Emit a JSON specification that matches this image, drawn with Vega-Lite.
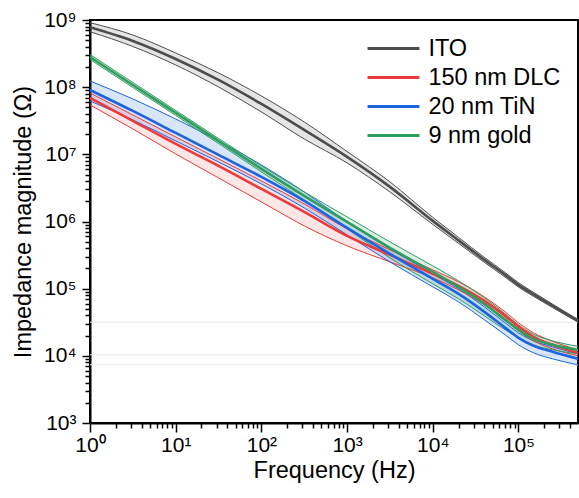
{
  "$schema": "https://vega.github.io/schema/vega-lite/v6.json",
  "width": 488,
  "height": 403,
  "autosize": {"type": "none"},
  "padding": {"left": 90, "top": 20, "right": 1, "bottom": 75},
  "config": {
    "font": "Liberation Sans",
    "view": {"stroke": "black", "strokeWidth": 2},
    "axis": {
      "domainColor": "black", "domainWidth": 2, "tickColor": "black", "tickWidth": 1.5,
      "labelColor": "black", "labelFontSize": 21, "labelFont": "Liberation Sans",
      "titleFontSize": 23.5, "titleFontWeight": "normal", "titleColor": "black", "titleFont": "Liberation Sans",
      "grid": false, "labelOverlap": false, "labelFlush": false
    },
    "legend": {
      "labelFontSize": 23.5, "labelFont": "Liberation Sans", "labelColor": "black",
      "symbolType": "M-2.2,0H2.2", "symbolSize": 557, "symbolStrokeWidth": 3,
      "labelOffset": 21.4, "rowPadding": 4
    }
  },
  "datasets": {
    "refs": [{"z": 31700}, {"z": 10350}, {"z": 7350}],
    "curves": [
      {"s": "ITO", "f": 1, "z": 7.787e8, "hi": 9.117e8, "lo": 6.695e8},
      {"s": "ITO", "f": 3.16, "z": 4.870e8, "hi": 5.982e8, "lo": 4.034e8},
      {"s": "ITO", "f": 10, "z": 2.628e8, "hi": 3.228e8, "lo": 2.140e8},
      {"s": "ITO", "f": 31.6, "z": 1.280e8, "hi": 1.627e8, "lo": 1.007e8},
      {"s": "ITO", "f": 100, "z": 5.623e7, "hi": 7.397e7, "lo": 4.274e7},
      {"s": "ITO", "f": 316, "z": 2.307e7, "hi": 3.035e7, "lo": 1.695e7},
      {"s": "ITO", "f": 1000, "z": 9.150e6, "hi": 1.100e7, "lo": 7.448e6},
      {"s": "ITO", "f": 3162, "z": 3.273e6, "hi": 3.885e6, "lo": 2.757e6},
      {"s": "ITO", "f": 10000, "z": 1.021e6, "hi": 1.151e6, "lo": 9.056e5},
      {"s": "ITO", "f": 20000, "z": 5.233e5, "hi": 5.799e5, "lo": 4.722e5},
      {"s": "ITO", "f": 40000, "z": 2.683e5, "hi": 2.923e5, "lo": 2.463e5},
      {"s": "ITO", "f": 70000, "z": 1.605e5, "hi": 1.736e5, "lo": 1.483e5},
      {"s": "ITO", "f": 100000, "z": 1.139e5, "hi": 1.228e5, "lo": 1.056e5},
      {"s": "ITO", "f": 150000, "z": 8.228e4, "hi": 8.81e4, "lo": 7.682e4},
      {"s": "ITO", "f": 250000, "z": 5.548e4, "hi": 5.882e4, "lo": 5.233e4},
      {"s": "ITO", "f": 495000, "z": 3.318e4, "hi": 3.469e4, "lo": 3.173e4},

      {"s": "150 nm DLC", "f": 1, "z": 6.907e7, "hi": 8.200e7, "lo": 5.434e7},
      {"s": "150 nm DLC", "f": 3.16, "z": 3.141e7, "hi": 3.857e7, "lo": 2.387e7},
      {"s": "150 nm DLC", "f": 10, "z": 1.428e7, "hi": 1.815e7, "lo": 1.014e7},
      {"s": "150 nm DLC", "f": 31.6, "z": 6.721e6, "hi": 8.544e6, "lo": 4.455e6},
      {"s": "150 nm DLC", "f": 100, "z": 3.056e6, "hi": 4.019e6, "lo": 1.957e6},
      {"s": "150 nm DLC", "f": 316, "z": 1.389e6, "hi": 1.828e6, "lo": 8.602e5},
      {"s": "150 nm DLC", "f": 1000, "z": 6.105e5, "hi": 7.762e5, "lo": 4.335e5},
      {"s": "150 nm DLC", "f": 3162, "z": 3.184e5, "hi": 3.779e5, "lo": 2.505e5},
      {"s": "150 nm DLC", "f": 10000, "z": 1.660e5, "hi": 1.905e5, "lo": 1.448e5},
      {"s": "150 nm DLC", "f": 20000, "z": 1.101e5, "hi": 1.263e5, "lo": 9.597e4},
      {"s": "150 nm DLC", "f": 40000, "z": 6.583e4, "hi": 7.551e4, "lo": 5.741e4},
      {"s": "150 nm DLC", "f": 70000, "z": 3.937e4, "hi": 4.516e4, "lo": 3.434e4},
      {"s": "150 nm DLC", "f": 100000, "z": 2.701e4, "hi": 3.098e4, "lo": 2.356e4},
      {"s": "150 nm DLC", "f": 150000, "z": 1.918e4, "hi": 2.199e4, "lo": 1.672e4},
      {"s": "150 nm DLC", "f": 250000, "z": 1.458e4, "hi": 1.644e4, "lo": 1.271e4},
      {"s": "150 nm DLC", "f": 495000, "z": 1.108e4, "hi": 1.228e4, "lo": 1.000e4},

      {"s": "20 nm TiN", "f": 1, "z": 9.085e7, "hi": 1.237e8, "lo": 6.233e7},
      {"s": "20 nm TiN", "f": 3.16, "z": 4.424e7, "hi": 6.674e7, "lo": 3.251e7},
      {"s": "20 nm TiN", "f": 10, "z": 2.082e7, "hi": 3.364e7, "lo": 1.583e7},
      {"s": "20 nm TiN", "f": 31.6, "z": 9.797e6, "hi": 1.583e7, "lo": 7.707e6},
      {"s": "20 nm TiN", "f": 100, "z": 4.611e6, "hi": 6.955e6, "lo": 3.627e6},
      {"s": "20 nm TiN", "f": 316, "z": 2.026e6, "hi": 2.757e6, "lo": 1.594e6},
      {"s": "20 nm TiN", "f": 1000, "z": 8.032e5, "hi": 9.864e5, "lo": 6.318e5},
      {"s": "20 nm TiN", "f": 3162, "z": 3.295e5, "hi": 3.911e5, "lo": 2.505e5},
      {"s": "20 nm TiN", "f": 10000, "z": 1.399e5, "hi": 1.660e5, "lo": 1.064e5},
      {"s": "20 nm TiN", "f": 20000, "z": 8.370e4, "hi": 9.932e4, "lo": 6.361e4},
      {"s": "20 nm TiN", "f": 40000, "z": 4.516e4, "hi": 5.360e4, "lo": 3.434e4},
      {"s": "20 nm TiN", "f": 70000, "z": 2.610e4, "hi": 3.098e4, "lo": 2.054e4},
      {"s": "20 nm TiN", "f": 100000, "z": 1.853e4, "hi": 2.199e4, "lo": 1.458e4},
      {"s": "20 nm TiN", "f": 150000, "z": 1.409e4, "hi": 1.672e4, "lo": 1.108e4},
      {"s": "20 nm TiN", "f": 250000, "z": 1.147e4, "hi": 1.361e4, "lo": 9.024e3},
      {"s": "20 nm TiN", "f": 495000, "z": 9.024e3, "hi": 1.071e4, "lo": 7.346e3},

      {"s": "9 nm gold", "f": 1, "z": 2.815e8, "hi": 3.066e8, "lo": 2.584e8},
      {"s": "9 nm gold", "f": 3.16, "z": 1.078e8, "hi": 1.175e8, "lo": 9.898e7},
      {"s": "9 nm gold", "f": 10, "z": 4.130e7, "hi": 4.500e7, "lo": 3.792e7},
      {"s": "9 nm gold", "f": 31.6, "z": 1.583e7, "hi": 1.725e7, "lo": 1.453e7},
      {"s": "9 nm gold", "f": 100, "z": 6.065e6, "hi": 6.721e6, "lo": 5.472e6},
      {"s": "9 nm gold", "f": 316, "z": 2.404e6, "hi": 2.757e6, "lo": 2.096e6},
      {"s": "9 nm gold", "f": 1000, "z": 9.864e5, "hi": 1.171e6, "lo": 7.762e5},
      {"s": "9 nm gold", "f": 3162, "z": 4.048e5, "hi": 4.972e5, "lo": 2.873e5},
      {"s": "9 nm gold", "f": 10000, "z": 1.778e5, "hi": 2.184e5, "lo": 1.179e5},
      {"s": "9 nm gold", "f": 20000, "z": 1.064e5, "hi": 1.306e5, "lo": 7.053e4},
      {"s": "9 nm gold", "f": 40000, "z": 5.942e4, "hi": 7.298e4, "lo": 3.937e4},
      {"s": "9 nm gold", "f": 70000, "z": 3.434e4, "hi": 4.217e4, "lo": 2.437e4},
      {"s": "9 nm gold", "f": 100000, "z": 2.437e4, "hi": 2.892e4, "lo": 1.853e4},
      {"s": "9 nm gold", "f": 150000, "z": 1.790e4, "hi": 2.089e4, "lo": 1.458e4},
      {"s": "9 nm gold", "f": 250000, "z": 1.458e4, "hi": 1.672e4, "lo": 1.228e4},
      {"s": "9 nm gold", "f": 495000, "z": 1.228e4, "hi": 1.385e4, "lo": 1.071e4}
    ]
  },
  "layer": [
    {
      "data": {"name": "refs"},
      "mark": {"type": "rule", "color": "#ebebeb", "strokeWidth": 1},
      "encoding": {
        "y": {"field": "z", "type": "quantitative", "scale": {"type": "log", "domain": [1000, 1000000000], "nice": false}}
      }
    },
    {
      "data": {"name": "curves"},
      "mark": {"type": "area", "interpolate": "monotone"},
      "encoding": {
        "x": {"field": "f", "type": "quantitative", "scale": {"type": "log", "domain": [1, 495000], "nice": false}},
        "y": {"field": "lo", "type": "quantitative", "scale": {"type": "log", "domain": [1000, 1000000000], "nice": false}},
        "y2": {"field": "hi"},
        "fill": {"field": "s", "type": "nominal", "legend": null,
          "scale": {"domain": ["150 nm DLC", "20 nm TiN", "9 nm gold", "ITO"], "range": ["#ee3a3a", "#1c64e0", "#2e9e5e", "#4d4d4d"]}},
        "fillOpacity": {"field": "s", "type": "nominal", "legend": null,
          "scale": {"domain": ["20 nm TiN", "9 nm gold", "ITO", "150 nm DLC"], "range": [0.17, 0.13, 0.09, 0.11]}}
      }
    },
    {
      "data": {"name": "curves"},
      "mark": {"type": "line", "interpolate": "monotone", "strokeWidth": 1},
      "encoding": {
        "x": {"field": "f", "type": "quantitative"},
        "y": {"field": "hi", "type": "quantitative"},
        "stroke": {"field": "s", "type": "nominal", "legend": null,
          "scale": {"domain": ["9 nm gold", "ITO", "150 nm DLC", "20 nm TiN"], "range": ["#2e9e5e", "#4d4d4d", "#ee3a3a", "#1c64e0"]}}
      }
    },
    {
      "data": {"name": "curves"},
      "mark": {"type": "line", "interpolate": "monotone", "strokeWidth": 1},
      "encoding": {
        "x": {"field": "f", "type": "quantitative"},
        "y": {"field": "lo", "type": "quantitative"},
        "stroke": {"field": "s", "type": "nominal", "legend": null}
      }
    },
    {
      "data": {"name": "curves"},
      "mark": {"type": "line", "interpolate": "monotone", "strokeWidth": 2.6},
      "encoding": {
        "x": {"field": "f", "type": "quantitative",
          "axis": {
            "title": "Frequency (Hz)",
            "values": [1,2,3,4,5,6,7,8,9,10,20,30,40,50,60,70,80,90,100,200,300,400,500,600,700,800,900,1000,2000,3000,4000,5000,6000,7000,8000,9000,10000,20000,30000,40000,50000,60000,70000,80000,90000,100000,200000,300000,400000],
            "labelExpr": "abs(log(datum.value)/LN10 - round(log(datum.value)/LN10)) < 0.01 ? '10' + ['⁰','¹','²','³','⁴','⁵','⁶','⁷','⁸','⁹'][round(log(datum.value)/LN10)] : ''",
            "tickSize": {"condition": {"test": "abs(log(datum.value)/LN10 - round(log(datum.value)/LN10)) < 0.01", "value": 9}, "value": 5},
            "labelPadding": 2,
            "titlePadding": 3
          }},
        "y": {"field": "z", "type": "quantitative",
          "axis": {
            "title": "Impedance magnitude (Ω)",
            "values": [1000,2000,3000,4000,5000,6000,7000,8000,9000,10000,20000,30000,40000,50000,60000,70000,80000,90000,100000,200000,300000,400000,500000,600000,700000,800000,900000,1000000,2000000,3000000,4000000,5000000,6000000,7000000,8000000,9000000,10000000,20000000,30000000,40000000,50000000,60000000,70000000,80000000,90000000,100000000,200000000,300000000,400000000,500000000,600000000,700000000,800000000,900000000,1000000000],
            "labelExpr": "abs(log(datum.value)/LN10 - round(log(datum.value)/LN10)) < 0.01 ? '10' + ['⁰','¹','²','³','⁴','⁵','⁶','⁷','⁸','⁹'][round(log(datum.value)/LN10)] : ''",
            "tickSize": {"condition": {"test": "abs(log(datum.value)/LN10 - round(log(datum.value)/LN10)) < 0.01", "value": 8}, "value": 5},
            "labelPadding": 6,
            "titlePadding": 8
          }},
        "color": {"field": "s", "type": "nominal",
          "scale": {"domain": ["ITO", "150 nm DLC", "20 nm TiN", "9 nm gold"], "range": ["#4d4d4d", "#ee3a3a", "#1c64e0", "#2e9e5e"]},
          "legend": {"title": null, "orient": "none", "legendX": 290, "legendY": 15}}
      }
    }
  ]
}
